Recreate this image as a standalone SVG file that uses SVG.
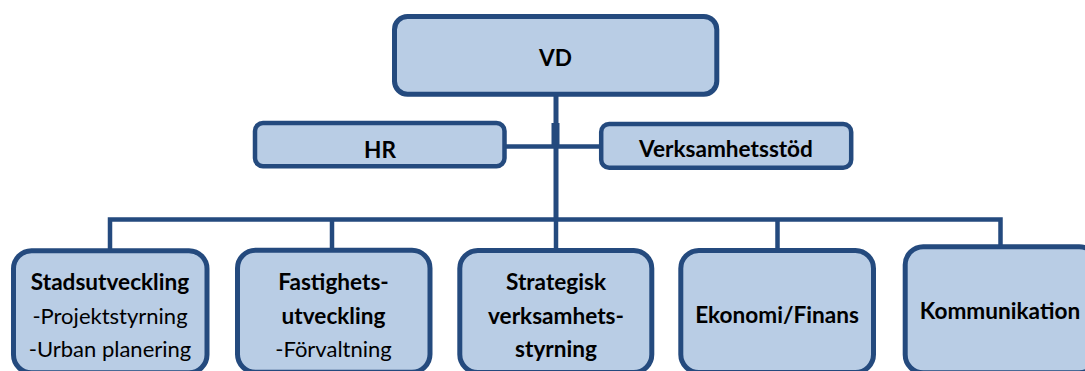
<svg xmlns="http://www.w3.org/2000/svg" width="1085" height="371" viewBox="0 0 1085 371">
<style>
.box{fill:#B9CDE5;stroke:#244A7E;stroke-width:5}
.sm{stroke-width:4.5}
.ln{fill:none;stroke:#244A7E;stroke-width:4.5}
text{font-family:Lato,"Liberation Sans",sans-serif;font-size:22px;fill:#000;text-anchor:middle}
.b{font-weight:bold;font-size:22.6px}
</style>
<rect width="1085" height="371" fill="#fff"/>
<g id="connectors">
<path class="ln" d="M556,96 V219.5" style="stroke-width:5"/>
<rect x="551.5" y="123" width="8" height="24" fill="#244A7E"/>
<path class="ln" d="M506,146.5 H599"/>
<path class="ln" d="M110,250 V219.5 H1000.5 V246"/>
<path class="ln" d="M332,219.5 V249"/>
<path class="ln" d="M556,219.5 V249"/>
<path class="ln" d="M777.5,219.5 V249"/>
</g>
<g id="vd">
<rect class="box" x="394.5" y="16.5" width="322.3" height="77.7" rx="13"/>
<text class="b" x="555.5" y="66">VD</text>
</g>
<g id="hr">
<rect class="box sm" x="255" y="123" width="249.5" height="43.3" rx="8"/>
<text class="b" x="380" y="158">HR</text>
</g>
<g id="verksamhetsstod">
<rect class="box sm" x="601.2" y="123.9" width="250" height="43.8" rx="8"/>
<text class="b" x="726" y="157">Verksamhetsstöd</text>
</g>
<g id="stadsutveckling">
<rect class="box" x="13.5" y="250.8" width="193.5" height="122" rx="18"/>
<text class="b" x="110" y="290">Stadsutveckling</text>
<text x="110" y="323.5">-Projektstyrning</text>
<text x="110" y="357">-Urban planering</text>
</g>
<g id="fastighetsutveckling">
<rect class="box" x="237.5" y="250.2" width="192.5" height="122" rx="18"/>
<text class="b" x="333.5" y="290">Fastighets-</text>
<text class="b" x="333.5" y="323.5">utveckling</text>
<text x="333.5" y="357">-Förvaltning</text>
</g>
<g id="strategisk">
<rect class="box" x="459.8" y="250.5" width="192" height="122" rx="18"/>
<text class="b" x="556" y="290">Strategisk</text>
<text class="b" x="556" y="323.5">verksamhets-</text>
<text class="b" x="556" y="357">styrning</text>
</g>
<g id="ekonomi">
<rect class="box" x="680.8" y="250.5" width="192.7" height="122" rx="18"/>
<text class="b" x="777" y="323">Ekonomi/Finans</text>
</g>
<g id="kommunikation">
<rect class="box" x="905.2" y="246.8" width="192" height="126" rx="18"/>
<text class="b" x="1000" y="319">Kommunikation</text>
</g>
</svg>
